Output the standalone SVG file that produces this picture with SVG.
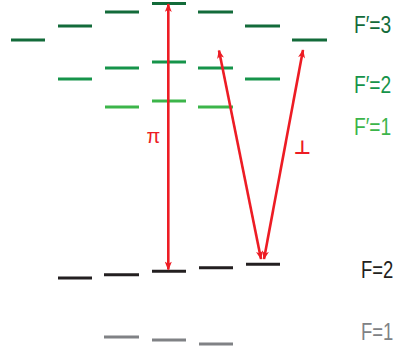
<svg xmlns="http://www.w3.org/2000/svg" width="396" height="354" viewBox="0 0 396 354">
<defs>
<style>
.l3{stroke:#136b3a;stroke-width:3}
.l2{stroke:#16944a;stroke-width:3}
.l1{stroke:#3cb54a;stroke-width:3}
.g2{stroke:#231f20;stroke-width:3}
.g1{stroke:#808285;stroke-width:3}
.ar{stroke:#ed1c24;stroke-width:2.6;fill:none}
.lab{font-family:"Liberation Sans",Arial,sans-serif;font-size:24px}
</style>
<marker id="ah" viewBox="0 0 10 8" refX="9" refY="4" markerWidth="10" markerHeight="7" markerUnits="userSpaceOnUse" orient="auto-start-reverse">
<path d="M0,0 L10,4 L0,8 L2.5,4 Z" fill="#ed1c24"/>
</marker>
</defs>
<rect width="396" height="354" fill="#fff"/>
<g id="Fp3">
<line class="l3" x1="11" y1="40" x2="45" y2="40"/>
<line class="l3" x1="58" y1="26" x2="92" y2="26"/>
<line class="l3" x1="105" y1="12" x2="139" y2="12"/>
<line class="l3" x1="152" y1="3.5" x2="186" y2="3.5"/>
<line class="l3" x1="198" y1="12" x2="233" y2="12"/>
<line class="l3" x1="245" y1="26" x2="280" y2="26"/>
<line class="l3" x1="292" y1="40" x2="327" y2="40"/>
<text class="lab" transform="translate(354,33) scale(0.8,1)" fill="#136b3a">F′=3</text>
</g>
<g id="Fp2">
<line class="l2" x1="58" y1="79" x2="92" y2="79"/>
<line class="l2" x1="105" y1="68" x2="139" y2="68"/>
<line class="l2" x1="152" y1="62" x2="186" y2="62"/>
<line class="l2" x1="198" y1="68" x2="233" y2="68"/>
<line class="l2" x1="245" y1="79" x2="280" y2="79"/>
<text class="lab" transform="translate(354,93) scale(0.8,1)" fill="#16944a">F′=2</text>
</g>
<g id="Fp1">
<line class="l1" x1="105" y1="107" x2="139" y2="107"/>
<line class="l1" x1="152" y1="101" x2="186" y2="101"/>
<line class="l1" x1="198" y1="107" x2="233" y2="107"/>
<text class="lab" transform="translate(354,135) scale(0.8,1)" fill="#3cb54a">F′=1</text>
</g>
<g id="F2">
<line class="g2" x1="58" y1="278" x2="92" y2="278"/>
<line class="g2" x1="104" y1="274.7" x2="139" y2="274.7"/>
<line class="g2" x1="152" y1="271.3" x2="186" y2="271.3"/>
<line class="g2" x1="199" y1="267.7" x2="233" y2="267.7"/>
<line class="g2" x1="246" y1="264.3" x2="280" y2="264.3"/>
<text class="lab" transform="translate(361,278) scale(0.77,1)" fill="#231f20">F=2</text>
</g>
<g id="F1">
<line class="g1" x1="104" y1="337" x2="139" y2="337"/>
<line class="g1" x1="152" y1="340" x2="186" y2="340"/>
<line class="g1" x1="199" y1="344" x2="233" y2="344"/>
<text class="lab" transform="translate(361,340) scale(0.77,1)" fill="#808285">F=1</text>
</g>
<g id="connectors">
<line class="ar" x1="168.3" y1="269.5" x2="168.3" y2="4" marker-start="url(#ah)" marker-end="url(#ah)"/>
<line class="ar" x1="261" y1="259" x2="219" y2="50.5" marker-start="url(#ah)" marker-end="url(#ah)"/>
<line class="ar" x1="264" y1="259" x2="303" y2="50" marker-start="url(#ah)" marker-end="url(#ah)"/>
<text x="146.5" y="143" fill="#ed1c24" font-family="'Liberation Sans',Arial,sans-serif" font-size="20">π</text>
<text x="293.5" y="153.5" fill="#ed1c24" font-family="'DejaVu Sans',sans-serif" font-size="19" font-weight="bold">⊥</text>
</g>
</svg>
